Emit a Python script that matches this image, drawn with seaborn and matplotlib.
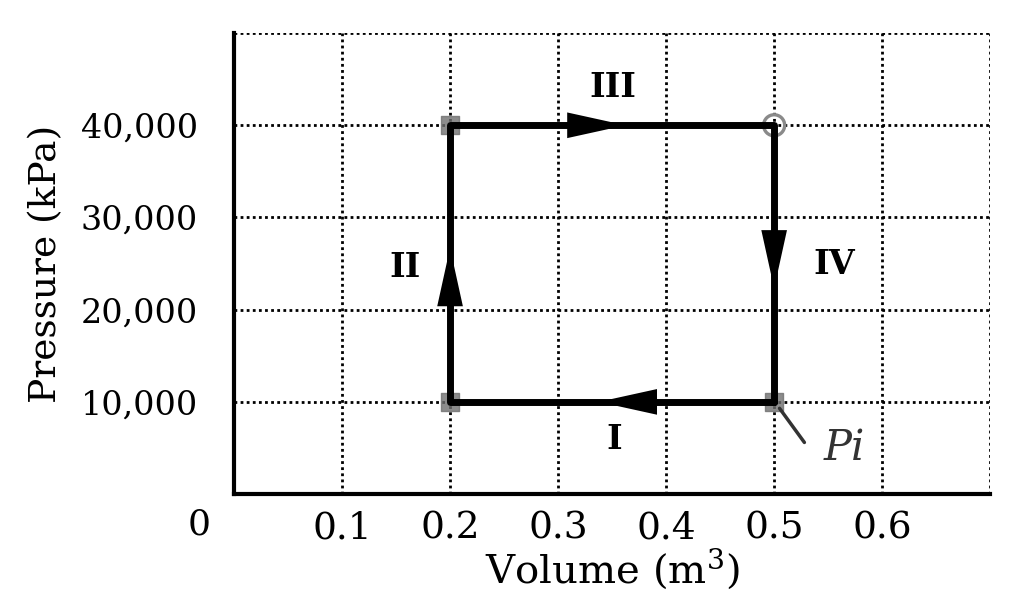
import numpy as np
import pandas as pd
import seaborn as sns
import matplotlib.pyplot as plt

# cycle corners, in the order the path is traced (I -> II -> III -> IV)
volume = [0.5, 0.2, 0.2, 0.5, 0.5]
pressure = [10000, 10000, 40000, 40000, 10000]

# arrow tips on each leg and the direction they point
arrow_tips_v = [0.335, 0.2, 0.365, 0.5]
arrow_tips_p = [10000, 27000, 40000, 22000]
arrow_dirs = [(-1, 0), (0, 1), (1, 0), (0, -1)]

step_labels = ["I", "II", "III", "IV"]
label_v = [0.352, 0.158, 0.351, 0.556]
label_p = [5900, 24600, 44100, 24900]

x_ticks = [0.1, 0.2, 0.3, 0.4, 0.5, 0.6]
x_ticklabels = ["0.1", "0.2", "0.3", "0.4", "0.5", "0.6"]
y_ticks = [10000, 20000, 30000, 40000]
y_ticklabels = ["10,000", "20,000", "30,000", "40,000"]


def main():
    sns.set_style("white")
    plt.rcParams['font.family'] = ['DejaVu Serif', 'DejaVu Sans']
    plt.rcParams['mathtext.fontset'] = 'dejavuserif'
    plt.rcParams['text.color'] = 'black'
    plt.rcParams['axes.labelcolor'] = 'black'

    fig = plt.figure(figsize=(10.24, 5.96), dpi=100)
    ax = fig.add_axes([0.2285, 0.171, 0.7385, 0.7735])

    ax.set_xlim(0, 0.7)
    ax.set_ylim(0, 50000)

    # dotted grid, also used for the top and right border
    for xv in x_ticks + [0.7]:
        ax.axvline(xv, color="black", ls=(0, (1, 1.2)), lw=2, zorder=1)
    for yv in y_ticks + [50000]:
        ax.axhline(yv, color="black", ls=(0, (1, 1.2)), lw=2, zorder=1)

    df = pd.DataFrame({"volume": volume, "pressure": pressure})
    sns.lineplot(data=df, x="volume", y="pressure", sort=False,
                 estimator=None, color="black", lw=5, ax=ax, zorder=3)

    # grey blobs at the corners of the cycle
    ax.scatter(volume[:3], pressure[:3], s=150, marker="s",
               color="#6f6f6f", zorder=2, alpha=0.8)
    ax.scatter([volume[3]], [pressure[3]], s=230, facecolors="none",
               edgecolors="#8a8a8a", lw=2.4, zorder=2)

    for v, p, (dx, dy) in zip(arrow_tips_v, arrow_tips_p, arrow_dirs):
        ax.annotate("", xy=(v, p), xytext=(v - dx * 0.05, p - dy * 5000),
                    arrowprops=dict(arrowstyle="-|>,head_length=1.5,head_width=0.33",
                                    color="black", lw=0, mutation_scale=28),
                    zorder=4)

    for lab, v, p in zip(step_labels, label_v, label_p):
        ax.text(v, p, lab, fontsize=24, fontweight="bold", ha="center",
                va="center", color="black")

    # handwritten note next to the bottom-right corner
    ax.plot([0.505, 0.528], [9300, 5600], color="#333333", lw=2.5, zorder=3)
    ax.text(0.565, 5000, "Pi", fontsize=30, style="italic", ha="center",
            va="center", color="#333333")

    ax.set_xticks(x_ticks)
    ax.set_xticklabels(x_ticklabels)
    ax.set_yticks(y_ticks)
    ax.set_yticklabels(y_ticklabels)
    ax.tick_params(axis="x", direction="in", length=10, width=2.5,
                   labelsize=27, pad=12, colors="black")
    ax.tick_params(axis="y", direction="in", length=15, width=2.5,
                   labelsize=24, pad=26, colors="black")

    ax.text(-0.032, -1500, "0", fontsize=26, ha="center", va="top",
            transform=ax.transData, clip_on=False)

    for side in ["top", "right"]:
        ax.spines[side].set_visible(False)
    for side in ["left", "bottom"]:
        ax.spines[side].set_color("black")
        ax.spines[side].set_linewidth(3)

    ax.set_xlabel("Volume (m$^3$)", fontsize=29, labelpad=0)
    ax.set_ylabel("Pressure (kPa)", fontsize=27, labelpad=12)

    fig.savefig("out.png", dpi=100, facecolor="white")


if __name__ == "__main__":
    main()
